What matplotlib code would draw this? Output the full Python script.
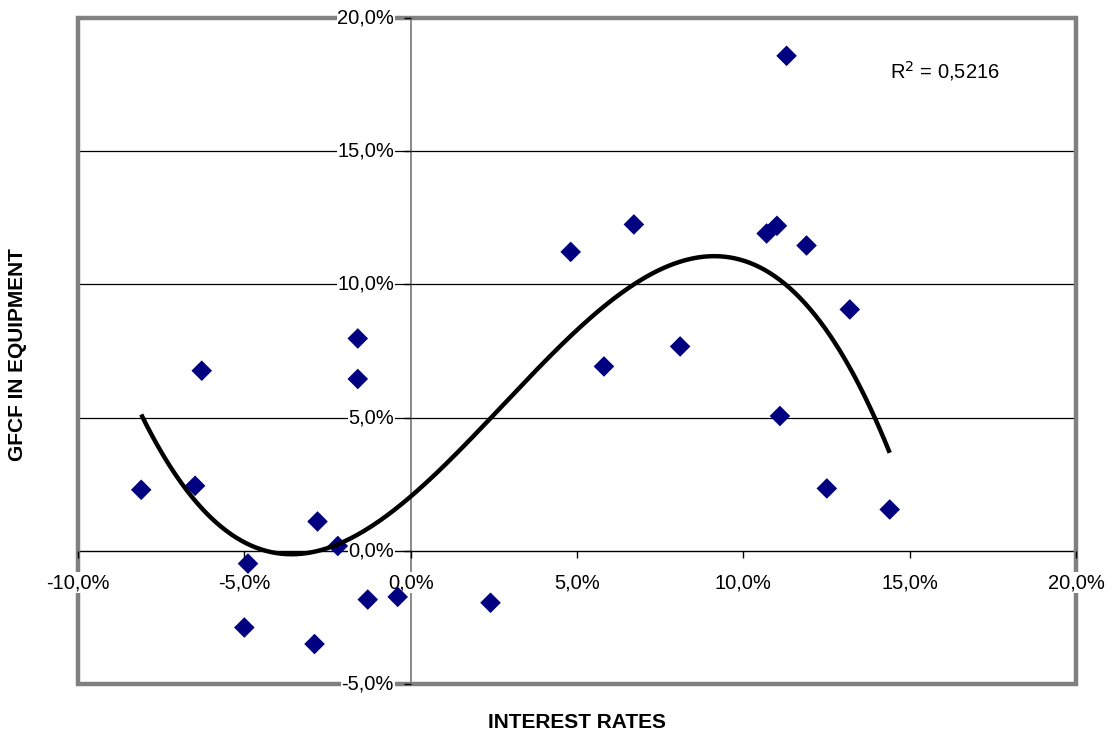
import numpy as np
import matplotlib
matplotlib.use("Agg")
import matplotlib.pyplot as plt
from matplotlib.patches import Rectangle
from matplotlib.ticker import FuncFormatter, MultipleLocator

plt.rcParams['font.family'] = ['Liberation Sans', 'DejaVu Sans']

# interest rates (%) vs GFCF in equipment (%)
interest_rates = [-8.10, -6.48, -6.28, -4.89, -5.00, -2.80, -2.89, -2.19, -1.59,
                  -1.59, -1.29, -0.39, 2.40, 4.81, 5.81, 6.71, 8.10, 10.70,
                  11.01, 11.10, 11.30, 11.90, 12.51, 13.20, 14.40]
gfcf_equipment = [2.29, 2.44, 6.76, -0.48, -2.88, 1.10, -3.50, 0.18, 7.97,
                  6.45, -1.83, -1.73, -1.95, 11.22, 6.92, 12.25, 7.67, 11.91,
                  12.20, 5.06, 18.58, 11.46, 2.34, 9.06, 1.55]
r2_label = "0,5216"


def pct_fmt(v, _pos):
    return f"{v:.1f}%".replace(".", ",")


fig = plt.figure(figsize=(11.15, 7.36), dpi=100)
ax = fig.add_axes([78 / 1115, 52 / 736, 998 / 1115, 666 / 736])

x = np.array(interest_rates)
y = np.array(gfcf_equipment)

# horizontal gridlines
for g in (5, 10, 15):
    ax.axhline(g, color='black', lw=0.9, zorder=1)

ax.scatter(x, y, marker='D', s=110, color='#000080', edgecolors='none', zorder=3)

# 3rd order polynomial trendline
coef = np.polyfit(x, y, 3)
xs = np.linspace(x.min(), x.max(), 300)
ax.plot(xs, np.polyval(coef, xs), color='black', lw=3.2, zorder=4,
        solid_capstyle='butt')

ax.set_xlim(-10, 20)
ax.set_ylim(-5, 20)
ax.xaxis.set_major_locator(MultipleLocator(5))
ax.yaxis.set_major_locator(MultipleLocator(5))
ax.xaxis.set_major_formatter(FuncFormatter(pct_fmt))
ax.yaxis.set_major_formatter(FuncFormatter(pct_fmt))

# axes cross at the origin
ax.spines['left'].set_position(('data', 0))
ax.spines['bottom'].set_position(('data', 0))
ax.spines['left'].set_color('#808080')
ax.spines['left'].set_linewidth(1.3)
ax.spines['bottom'].set_color('black')
ax.spines['bottom'].set_linewidth(1.0)
ax.spines['top'].set_visible(False)
ax.spines['right'].set_visible(False)
ax.tick_params(axis='x', direction='out', length=5, width=1, color='black',
               labelsize=14.5, pad=11)
ax.tick_params(axis='y', direction='out', length=5, width=1, color='black',
               labelsize=14.5, pad=7)
ax.xaxis.set_zorder(2.7)
ax.yaxis.set_zorder(2.7)
for lbl in ax.get_xticklabels() + ax.get_yticklabels():
    lbl.set_bbox(dict(facecolor='white', edgecolor='none', pad=0.5))
for lbl in ax.get_yticklabels():
    lbl.set_verticalalignment('center')

# grey plot-area frame
ax.add_patch(Rectangle((0, 0), 1, 1, transform=ax.transAxes, fill=False,
                       edgecolor='#808080', lw=3.2, clip_on=False, zorder=2.6))

ax.text(14.4, 18.0, f"R$^2$ = {r2_label}", fontsize=14.5, ha='left', va='center')

fig.text(577 / 1115, 1 - 722 / 736, "INTEREST RATES", ha='center', va='center',
         fontsize=15, fontweight='bold')
fig.text(18 / 1115, 1 - 355 / 736, "GFCF IN EQUIPMENT", ha='center', va='center',
         rotation=90, fontsize=15, fontweight='bold')

fig.savefig("out.png", dpi=100, facecolor='white')
